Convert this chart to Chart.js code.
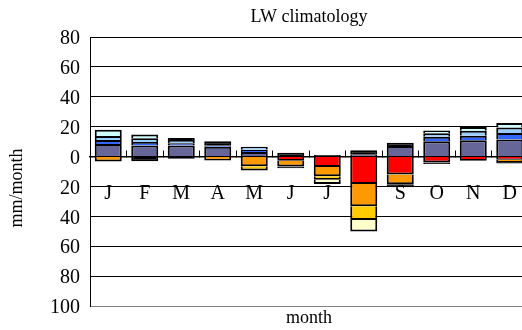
<!DOCTYPE html>
<html>
<head>
<meta charset="utf-8">
<script src="https://cdn.jsdelivr.net/npm/chart.js@4/dist/chart.umd.min.js"></script>
<style>
  html, body { margin: 0; padding: 0; overflow: hidden; background: #fff; }
  canvas { display: block; }
</style>
</head>
<body>
<canvas id="c" width="560" height="330" style="width:560px;height:330px"></canvas>
<script>
// Monthly categories
const months = ['J', 'F', 'M', 'A', 'M', 'J', 'J', 'A', 'S', 'O', 'N', 'D'];

// Positive components (mm/month), stacked upward from zero
const slate     = [8.4, 7.4, 7.4, 6.5, 3.0, null, null, 1.5, 7.0, 10.2, 10.9, 11.4];
const blue      = [2.6, 2.4, 1.5, 1.0, 1.5, null, null, null, null, 3.0, 3.1, 4.4];
const lightBlue = [2.7, 2.4, 2.1, null, 2.0, null, null, null, null, 2.4, 3.2, 3.7];
const cyan      = [4.3, 2.5, null, null, null, null, null, null, null, 1.8, 2.6, 3.0];
const blackUp   = [null, null, 1.5, 2.7, null, 2.5, 1.0, 2.7, 2.2, null, null, null];

// Negative components (mm/month), stacked downward from zero
const red       = [null, null, null, null, null, -2.8, -7.0, -18.4, -12.0, -4.0, -2.8, -2.2];
const orange    = [-3.3, null, null, -2.7, -6.5, -3.8, -6.2, -14.9, -6.5, null, null, -1.5];
const gold      = [null, null, null, null, -2.8, null, -2.4, -9.2, null, null, null, null];
const cream     = [null, null, null, null, null, null, -2.7, -7.7, null, null, null, null];
const blackDown = [null, -3.2, -1.5, null, null, -1.2, null, null, -2.0, -1.0, null, -1.0];

// Value axis range and step
const yMin = -100;
const yMax = 80;
const yStep = 20;

const titleText = 'LW climatology';
const xTitle = 'month';
const yTitle = 'mm/month';

const serif = '"Liberation Serif", "Times New Roman", serif';

function series(label, data, color) {
  return {
    label, data,
    backgroundColor: color,
    borderColor: '#000',
    borderWidth: 2,
    barPercentage: 0.74,
    categoryPercentage: 1.0,
    stack: 'all'
  };
}

const datasets = [
  series('slate', slate, '#666699'),
  series('blue', blue, '#3366FF'),
  series('lightBlue', lightBlue, '#99CCFF'),
  series('cyan', cyan, '#CCFFFF'),
  series('blackUp', blackUp, '#000000'),
  series('red', red, '#FF0000'),
  series('orange', orange, '#FF9900'),
  series('gold', gold, '#FFCC00'),
  series('cream', cream, '#FFFFCC'),
  series('blackDown', blackDown, '#000000')
];

// Title and axis captions
const captions = {
  id: 'captions',
  afterDraw(chart) {
    const { ctx, chartArea } = chart;
    const cx = (chartArea.left + chartArea.right) / 2;
    ctx.save();
    ctx.fillStyle = '#000';
    ctx.textAlign = 'center';
    ctx.textBaseline = 'middle';
    ctx.font = '18px ' + serif;
    ctx.fillText(titleText, cx, 17);
    ctx.fillText(xTitle, cx, 318);
    ctx.translate(17, 188);
    ctx.rotate(-Math.PI / 2);
    ctx.fillText(yTitle, 0, 0);
    ctx.restore();
  }
};

new Chart(document.getElementById('c'), {
  type: 'bar',
  data: { labels: months, datasets },
  options: {
    responsive: false,
    animation: false,
    layout: { padding: { top: 37, bottom: 24, left: 0, right: 32 } },
    plugins: { legend: { display: false }, tooltip: { enabled: false }, title: { display: false } },
    scales: {
      x: {
        stacked: true,
        position: { y: 0 },
        z: 1,
        grid: {
          offset: true,
          drawOnChartArea: false,
          drawTicks: true,
          tickLength: -7,
          color: '#000',
          lineWidth: 1
        },
        border: { display: true, color: '#000', width: 1.5 },
        ticks: {
          color: '#000',
          font: { family: serif, size: 20 },
          padding: 32,
          maxRotation: 0,
          autoSkip: false
        }
      },
      y: {
        stacked: true,
        min: yMin,
        max: yMax,
        afterFit(scale) { scale.width = 90; },
        grid: {
          drawTicks: false,
          color: (c) => (c.tick && c.tick.value === yMin) ? '#808080' : '#000',
          lineWidth: 1
        },
        border: { display: true, color: '#000', width: 1 },
        ticks: {
          stepSize: yStep,
          color: '#000',
          padding: 10,
          labelOffset: 2,
          font: { family: serif, size: 20 },
          callback: (v) => String(Math.abs(v))
        }
      }
    }
  },
  plugins: [captions]
});
</script>
</body>
</html>
